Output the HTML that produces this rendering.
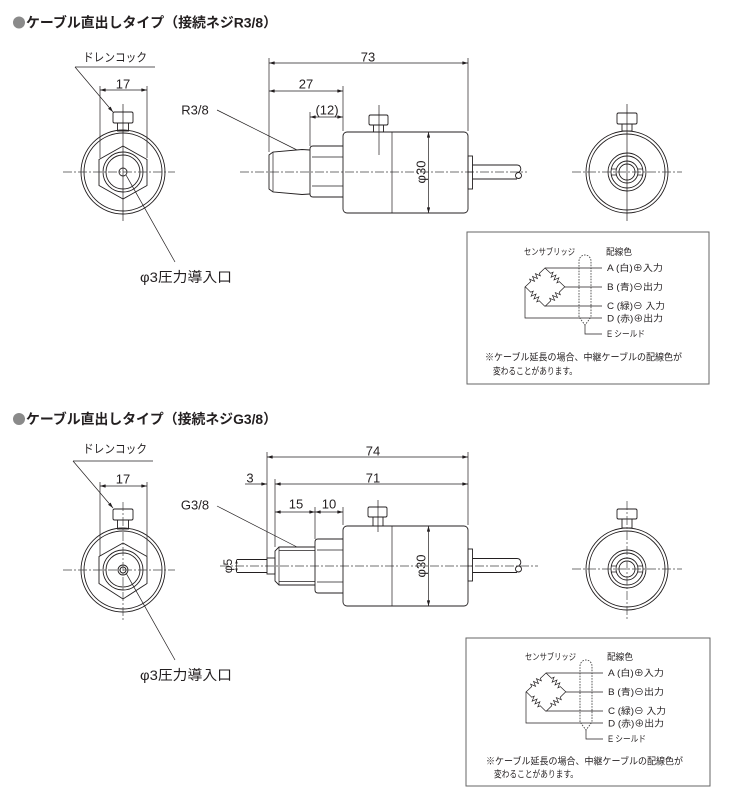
<!DOCTYPE html>
<html><head><meta charset="utf-8">
<style>
html,body{margin:0;padding:0;background:#fff;}
svg{display:block;}
.s{fill:none;stroke:#231f20;stroke-width:0.9;}
.t{stroke:#231f20;stroke-width:0.7;fill:none;}
.cl{fill:none;stroke:#444;stroke-width:0.7;stroke-dasharray:9 2 2 2;}
.tx{font-family:"Liberation Sans","Noto Sans CJK JP",sans-serif;fill:#231f20;}
.jp{font-family:"Liberation Sans","Noto Sans CJK JP",sans-serif;fill:#231f20;}
.bx{fill:none;stroke:#666;stroke-width:1;}
.sh{fill:none;stroke:#333;stroke-width:0.8;stroke-dasharray:1.6 1.2;}
</style></head>
<body>
<svg width="745" height="800" viewBox="0 0 745 800" xmlns="http://www.w3.org/2000/svg">
<defs>
<marker id="a" viewBox="0 0 10 6" refX="10" refY="3" markerWidth="6" markerHeight="3.4" markerUnits="userSpaceOnUse" orient="auto-start-reverse"><path d="M0,0 L10,3 L0,6 Z" fill="#231f20"/></marker>
<marker id="b" viewBox="0 0 10 6" refX="10" refY="3" markerWidth="4" markerHeight="2.6" markerUnits="userSpaceOnUse" orient="auto-start-reverse"><path d="M0,0 L10,3 L0,6 Z" fill="#231f20"/></marker>
</defs>
<rect width="745" height="800" fill="#fff"/>

<!-- ================= TOP SECTION ================= -->
<circle cx="19" cy="22.5" r="6" fill="#8a8a8a"/>
<text class="jp" x="26" y="22.5" dominant-baseline="central" font-size="14" font-weight="bold" textLength="251" lengthAdjust="spacingAndGlyphs">ケーブル直出しタイプ（接続ネジR3/8）</text>

<!-- front view top -->
<g transform="translate(123,172)">
 <circle class="s" r="42"/><circle class="s" r="39"/>
 <polygon class="s" points="0,-26 24,-12.5 24,13.5 0,27 -24,13.5 -24,-12.5"/>
 <circle class="s" r="20"/><circle class="s" r="17"/>
 <circle class="s" r="4"/>
 <rect class="s" x="-10" y="-60" width="20" height="11" rx="1.5"/>
 <rect class="s" x="-5.5" y="-49" width="11" height="8"/>
 <line class="t" x1="0" y1="-68" x2="0" y2="49"/>
 <line class="cl" x1="-60" y1="0" x2="52" y2="0"/>
 <line class="t" x1="-23" y1="-86" x2="-23" y2="-14"/>
 <line class="t" x1="24" y1="-86" x2="24" y2="-14"/>
 <line class="t" x1="-23" y1="-82" x2="24" y2="-82" marker-start="url(#a)" marker-end="url(#a)"/>
</g>
<text class="tx" x="123" y="84" text-anchor="middle" dominant-baseline="central" font-size="13">17</text>
<text class="jp" x="83" y="57.5" dominant-baseline="central" font-size="12" textLength="64" lengthAdjust="spacingAndGlyphs">ドレンコック</text>
<line class="t" x1="75" y1="67" x2="155" y2="67"/>
<line class="t" x1="75" y1="67" x2="113" y2="112" marker-end="url(#a)"/>
<line class="t" x1="126" y1="175" x2="175" y2="262"/>
<text class="jp" x="140" y="277" dominant-baseline="central" font-size="14" textLength="92" lengthAdjust="spacingAndGlyphs">φ3圧力導入口</text>

<!-- side view top -->
<text class="tx" x="195" y="110" text-anchor="middle" dominant-baseline="central" font-size="13">R3/8</text>
<line class="t" x1="217" y1="110" x2="297" y2="150"/>
<line class="cl" x1="240" y1="172" x2="527" y2="172"/>
<path class="s" d="M310,150 L302,149.5 L273,152 L269,155 L269,189 L273,192 L302,194.5 L310,194"/>
<line class="t" x1="273" y1="152" x2="273" y2="192"/>
<path class="s" d="M343,146 H313 Q310,146 310,149 V194 Q310,197 313,197 H343"/>
<line class="t" x1="312" y1="157" x2="343" y2="157"/>
<line class="t" x1="312" y1="186" x2="343" y2="186"/>
<rect class="s" x="343" y="132" width="125" height="81" rx="4"/>
<line class="t" x1="392" y1="132" x2="392" y2="213"/>
<line class="t" x1="428.5" y1="132" x2="428.5" y2="213" marker-start="url(#a)" marker-end="url(#a)"/>
<text class="tx" transform="translate(421,172) rotate(-90)" text-anchor="middle" dominant-baseline="central" font-size="13">φ30</text>
<rect class="s" x="369" y="115" width="19" height="10" rx="1.5"/>
<rect class="s" x="373.5" y="125" width="10" height="7"/>
<line class="t" x1="379" y1="105" x2="379" y2="155"/>
<rect class="s" x="468" y="156" width="4.5" height="33"/>
<line class="t" x1="468" y1="172" x2="472.5" y2="172"/>
<path class="s" d="M472.5,165 H517 C521,165 522,170 519,172 M472.5,179 H517"/>
<circle class="s" cx="518.5" cy="175.5" r="3"/>
<!-- dims top -->
<line class="t" x1="269" y1="58" x2="269" y2="152"/>
<line class="t" x1="468" y1="58" x2="468" y2="131"/>
<line class="t" x1="343" y1="86" x2="343" y2="131"/>
<line class="t" x1="310" y1="112" x2="310" y2="146"/>
<line class="t" x1="269" y1="63" x2="468" y2="63" marker-start="url(#a)" marker-end="url(#a)"/>
<line class="t" x1="269" y1="91" x2="343" y2="91" marker-start="url(#a)" marker-end="url(#a)"/>
<line class="t" x1="310" y1="117" x2="343" y2="117" marker-start="url(#a)" marker-end="url(#a)"/>
<text class="tx" x="368" y="57" text-anchor="middle" dominant-baseline="central" font-size="13">73</text>
<text class="tx" x="306" y="84" text-anchor="middle" dominant-baseline="central" font-size="13">27</text>
<text class="tx" x="327" y="110" text-anchor="middle" dominant-baseline="central" font-size="13">(12)</text>

<!-- end view top -->
<g transform="translate(627,172)">
 <circle class="s" r="41"/><circle class="s" r="38"/>
 <circle class="s" r="19"/><circle class="s" r="16"/>
 <circle class="s" r="11"/><circle class="s" r="8"/>
 <path class="t" d="M-16,-3 H-11 M-16,3 H-11 M11,-3 H16 M11,3 H16"/>
 <rect class="s" x="-10" y="-59" width="20" height="11" rx="1.5"/>
 <rect class="s" x="-5" y="-48" width="10" height="7"/>
 <line class="t" x1="0" y1="-68" x2="0" y2="49"/>
 <line class="cl" x1="-55" y1="0" x2="55" y2="0"/>
</g>

<!-- wiring box top -->
<rect class="bx" x="467" y="232" width="242" height="152"/>
<g>
 <text class="jp" x="524" y="252" dominant-baseline="central" font-size="9" textLength="51" lengthAdjust="spacingAndGlyphs">センサブリッジ</text>
 <text class="jp" x="606" y="252" dominant-baseline="central" font-size="9" textLength="26" lengthAdjust="spacingAndGlyphs">配線色</text>
 <g transform="translate(535,277.5) rotate(-43.5)"><path class="t" d="M-14,0 H-6 L-5,-2.5 L-3,2.5 L-1,-2.5 L1,2.5 L3,-2.5 L5,2.5 L6,0 H14"/></g>
 <g transform="translate(555,277.5) rotate(43.5)"><path class="t" d="M-14,0 H-6 L-5,-2.5 L-3,2.5 L-1,-2.5 L1,2.5 L3,-2.5 L5,2.5 L6,0 H14"/></g>
 <g transform="translate(535,296.5) rotate(45)"><path class="t" d="M-14,0 H-6 L-5,-2.5 L-3,2.5 L-1,-2.5 L1,2.5 L3,-2.5 L5,2.5 L6,0 H14"/></g>
 <g transform="translate(555,296.5) rotate(-45)"><path class="t" d="M-14,0 H-6 L-5,-2.5 L-3,2.5 L-1,-2.5 L1,2.5 L3,-2.5 L5,2.5 L6,0 H14"/></g>
 <path class="t" d="M545,268 H602 M565,287 H602 M545,306 H602 M525,287 V318 H602"/>
 <path class="sh" d="M579,317 V261 A6,6 0 0 1 591,261 V317 L585,325 Z"/>
 <path class="t" d="M585,325 V334 H602"/>
 <text class="jp" x="607" y="268" dominant-baseline="central" font-size="9" textLength="56" lengthAdjust="spacingAndGlyphs">A (白)⊕入力</text>
 <text class="jp" x="607" y="287" dominant-baseline="central" font-size="9" textLength="56" lengthAdjust="spacingAndGlyphs">B (青)⊖出力</text>
 <text class="jp" x="607" y="306" dominant-baseline="central" font-size="9" textLength="58" lengthAdjust="spacingAndGlyphs">C (緑)⊖ 入力</text>
 <text class="jp" x="607" y="318.5" dominant-baseline="central" font-size="9" textLength="56" lengthAdjust="spacingAndGlyphs">D (赤)⊕出力</text>
 <text class="jp" x="607" y="334" dominant-baseline="central" font-size="9" textLength="38" lengthAdjust="spacingAndGlyphs">E シールド</text>
 <text class="jp" x="485" y="358" dominant-baseline="central" font-size="9.5" textLength="197" lengthAdjust="spacingAndGlyphs">※ケーブル延長の場合、中継ケーブルの配線色が</text>
 <text class="jp" x="493" y="372" dominant-baseline="central" font-size="9.5" textLength="84" lengthAdjust="spacingAndGlyphs">変わることがあります。</text>
</g>

<!-- ================= BOTTOM SECTION ================= -->
<circle cx="19" cy="419" r="6" fill="#8a8a8a"/>
<text class="jp" x="26" y="419" dominant-baseline="central" font-size="14" font-weight="bold" textLength="251" lengthAdjust="spacingAndGlyphs">ケーブル直出しタイプ（接続ネジG3/8）</text>

<!-- front view bottom -->
<g transform="translate(123,570)">
 <circle class="s" r="42"/><circle class="s" r="39"/>
 <polygon class="s" points="0,-27 24,-13.5 24,13.5 0,29 -24,13.5 -24,-13.5"/>
 <circle class="s" r="20"/><circle class="s" r="17"/>
 <circle class="s" r="5"/><circle class="s" r="3"/>
 <rect class="s" x="-10" y="-61" width="20" height="11" rx="1.5"/>
 <rect class="s" x="-5.5" y="-50" width="11" height="9"/>
 <line class="cl" x1="0" y1="-68" x2="0" y2="51"/>
 <line class="cl" x1="-60" y1="0" x2="52" y2="0"/>
 <line class="t" x1="-23" y1="-88" x2="-23" y2="-14"/>
 <line class="t" x1="24" y1="-88" x2="24" y2="-14"/>
 <line class="t" x1="-23" y1="-84" x2="24" y2="-84" marker-start="url(#a)" marker-end="url(#a)"/>
</g>
<text class="tx" x="123" y="479" text-anchor="middle" dominant-baseline="central" font-size="13">17</text>
<text class="jp" x="83" y="449" dominant-baseline="central" font-size="12" textLength="64" lengthAdjust="spacingAndGlyphs">ドレンコック</text>
<line class="t" x1="73" y1="461" x2="153" y2="461"/>
<line class="t" x1="73" y1="461" x2="113" y2="508" marker-end="url(#a)"/>
<line class="t" x1="126" y1="573" x2="175" y2="660"/>
<text class="jp" x="140" y="675" dominant-baseline="central" font-size="14" textLength="92" lengthAdjust="spacingAndGlyphs">φ3圧力導入口</text>

<!-- side view bottom -->
<text class="tx" x="195" y="505" text-anchor="middle" dominant-baseline="central" font-size="13">G3/8</text>
<line class="t" x1="217" y1="506" x2="297" y2="547"/>
<line class="cl" x1="220" y1="566" x2="538" y2="566"/>
<path class="s" d="M237,559.5 H267 M237,572.5 H267"/>
<line class="t" x1="236.5" y1="559.5" x2="236.5" y2="572.5" marker-start="url(#b)" marker-end="url(#b)"/>
<text class="tx" transform="translate(228,566) rotate(-90)" text-anchor="middle" dominant-baseline="central" font-size="12">φ5</text>
<rect class="s" x="267" y="558" width="8" height="16"/>
<path class="s" d="M315,547 H279 L275,551 V581 L279,585 H315"/>
<line class="t" x1="279" y1="547" x2="279" y2="585"/>
<line class="t" x1="279" y1="550.5" x2="315" y2="550.5"/>
<line class="t" x1="279" y1="581.5" x2="315" y2="581.5"/>
<path class="s" d="M343,539 H318 Q315,539 315,542 V590 Q315,593 318,593 H343"/>
<line class="t" x1="317" y1="550" x2="343" y2="550"/>
<line class="t" x1="317" y1="582" x2="343" y2="582"/>
<rect class="s" x="343" y="526" width="125" height="80" rx="4"/>
<line class="t" x1="392" y1="526" x2="392" y2="606"/>
<line class="t" x1="428.5" y1="526" x2="428.5" y2="606" marker-start="url(#a)" marker-end="url(#a)"/>
<text class="tx" transform="translate(421,566) rotate(-90)" text-anchor="middle" dominant-baseline="central" font-size="13">φ30</text>
<rect class="s" x="368" y="507" width="19" height="10" rx="1.5"/>
<rect class="s" x="373" y="517" width="10" height="9"/>
<line class="t" x1="378" y1="500" x2="378" y2="532"/>
<rect class="s" x="468" y="549" width="4.5" height="32"/>
<line class="t" x1="468" y1="566" x2="472.5" y2="566"/>
<path class="s" d="M472.5,558.5 H517 C521,558.5 522,563.5 519,565.5 M472.5,572.5 H517"/>
<circle class="s" cx="518.5" cy="569" r="3"/>
<!-- dims bottom -->
<line class="t" x1="267" y1="452" x2="267" y2="558"/>
<line class="t" x1="275" y1="479" x2="275" y2="547"/>
<line class="t" x1="468" y1="452" x2="468" y2="525"/>
<line class="t" x1="315" y1="507" x2="315" y2="539"/>
<line class="t" x1="343" y1="507" x2="343" y2="525"/>
<line class="t" x1="267" y1="457" x2="468" y2="457" marker-start="url(#a)" marker-end="url(#a)"/>
<line class="t" x1="275" y1="484" x2="468" y2="484" marker-start="url(#a)" marker-end="url(#a)"/>
<line class="t" x1="245" y1="484" x2="267" y2="484" marker-end="url(#a)"/>
<line class="t" x1="275" y1="512" x2="315" y2="512" marker-start="url(#a)" marker-end="url(#a)"/>
<line class="t" x1="315" y1="512" x2="343" y2="512" marker-start="url(#a)" marker-end="url(#a)"/>
<text class="tx" x="373" y="451" text-anchor="middle" dominant-baseline="central" font-size="13">74</text>
<text class="tx" x="373" y="478" text-anchor="middle" dominant-baseline="central" font-size="13">71</text>
<text class="tx" x="250" y="478" text-anchor="middle" dominant-baseline="central" font-size="13">3</text>
<text class="tx" x="296" y="504" text-anchor="middle" dominant-baseline="central" font-size="13">15</text>
<text class="tx" x="329" y="504" text-anchor="middle" dominant-baseline="central" font-size="13">10</text>

<!-- end view bottom -->
<g transform="translate(627,569)">
 <circle class="s" r="41"/><circle class="s" r="38"/>
 <circle class="s" r="19"/><circle class="s" r="16"/>
 <circle class="s" r="11"/><circle class="s" r="8"/>
 <path class="t" d="M-16,-3 H-11 M-16,3 H-11 M11,-3 H16 M11,3 H16"/>
 <rect class="s" x="-10" y="-60" width="20" height="10" rx="1.5"/>
 <rect class="s" x="-5" y="-50" width="10" height="9"/>
 <line class="cl" x1="0" y1="-68" x2="0" y2="50"/>
 <line class="cl" x1="-55" y1="0" x2="55" y2="0"/>
</g>

<!-- wiring box bottom -->
<rect class="bx" x="466" y="638" width="244" height="148"/>
<g transform="translate(1,405)">
 <text class="jp" x="524" y="252" dominant-baseline="central" font-size="9" textLength="51" lengthAdjust="spacingAndGlyphs">センサブリッジ</text>
 <text class="jp" x="606" y="252" dominant-baseline="central" font-size="9" textLength="26" lengthAdjust="spacingAndGlyphs">配線色</text>
 <g transform="translate(535,277.5) rotate(-43.5)"><path class="t" d="M-14,0 H-6 L-5,-2.5 L-3,2.5 L-1,-2.5 L1,2.5 L3,-2.5 L5,2.5 L6,0 H14"/></g>
 <g transform="translate(555,277.5) rotate(43.5)"><path class="t" d="M-14,0 H-6 L-5,-2.5 L-3,2.5 L-1,-2.5 L1,2.5 L3,-2.5 L5,2.5 L6,0 H14"/></g>
 <g transform="translate(535,296.5) rotate(45)"><path class="t" d="M-14,0 H-6 L-5,-2.5 L-3,2.5 L-1,-2.5 L1,2.5 L3,-2.5 L5,2.5 L6,0 H14"/></g>
 <g transform="translate(555,296.5) rotate(-45)"><path class="t" d="M-14,0 H-6 L-5,-2.5 L-3,2.5 L-1,-2.5 L1,2.5 L3,-2.5 L5,2.5 L6,0 H14"/></g>
 <path class="t" d="M545,268 H602 M565,287 H602 M545,306 H602 M525,287 V318 H602"/>
 <path class="sh" d="M579,317 V261 A6,6 0 0 1 591,261 V317 L585,325 Z"/>
 <path class="t" d="M585,325 V334 H602"/>
 <text class="jp" x="607" y="268" dominant-baseline="central" font-size="9" textLength="56" lengthAdjust="spacingAndGlyphs">A (白)⊕入力</text>
 <text class="jp" x="607" y="287" dominant-baseline="central" font-size="9" textLength="56" lengthAdjust="spacingAndGlyphs">B (青)⊖出力</text>
 <text class="jp" x="607" y="306" dominant-baseline="central" font-size="9" textLength="58" lengthAdjust="spacingAndGlyphs">C (緑)⊖ 入力</text>
 <text class="jp" x="607" y="318.5" dominant-baseline="central" font-size="9" textLength="56" lengthAdjust="spacingAndGlyphs">D (赤)⊕出力</text>
 <text class="jp" x="607" y="334" dominant-baseline="central" font-size="9" textLength="38" lengthAdjust="spacingAndGlyphs">E シールド</text>
 <text class="jp" x="485" y="357" dominant-baseline="central" font-size="9.5" textLength="197" lengthAdjust="spacingAndGlyphs">※ケーブル延長の場合、中継ケーブルの配線色が</text>
 <text class="jp" x="493" y="370" dominant-baseline="central" font-size="9.5" textLength="84" lengthAdjust="spacingAndGlyphs">変わることがあります。</text>
</g>
</svg>
</body></html>
